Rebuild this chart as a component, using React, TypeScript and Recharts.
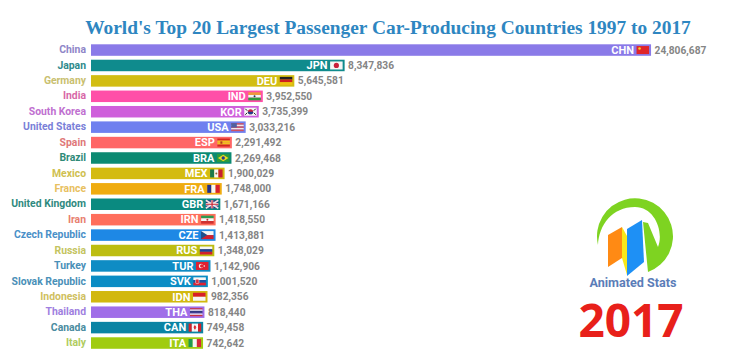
import React from "react";
import { BarChart, Bar, XAxis, YAxis, CartesianGrid, Cell } from "recharts";

const countries = ["China","Japan","Germany","India","South Korea","United States","Spain","Brazil","Mexico","France","United Kingdom","Iran","Czech Republic","Russia","Turkey","Slovak Republic","Indonesia","Thailand","Canada","Italy"];
const codes = ["CHN","JPN","DEU","IND","KOR","USA","ESP","BRA","MEX","FRA","GBR","IRN","CZE","RUS","TUR","SVK","IDN","THA","CAN","ITA"];
const values = [24806687,8347836,5645581,3952550,3735399,3033216,2291492,2269468,1900029,1748000,1671166,1418550,1413881,1348029,1142906,1001520,982356,818440,749458,742642];
const barColors = ["#8a7ae8","#0f8b8d","#d2bd12","#ff4fa8","#cf5fdb","#6f80ef","#ff6666","#0c8a72","#d4bb10","#efac10","#0a8a80","#ff6e5c","#1e88e5","#bdbd10","#0f8cc4","#0a8cc4","#d2b80f","#a06ee8","#0a84a4","#a0cc10"];
const labelColors = ["#8f86c8","#2f8a8c","#c9c070","#d868a8","#c070d0","#7a80d8","#e07878","#2f8a78","#cfc050","#e8c060","#2f8a80","#e88070","#4a90c8","#c4c460","#4a90b8","#4a90b8","#cfc060","#a080e0","#4a8ca0","#b0cc60"];
const gridTicks = [5000000,10000000,15000000,20000000,25000000];
const AXIS_FLOOR = -5275000;
const AXIS_CEIL = 28000000;
const FONT = "Roboto, sans-serif";

const data = countries.map((name, i) => ({ name, code: codes[i], value: values[i] }));

type FP = { x: number; y: number; w: number; h: number };
const HBands = ({ x, y, w, h, c }: FP & { c: string[] }) => (
  <g>{c.map((f, i) => <rect key={i} x={x} y={y + (i * h) / c.length} width={w} height={h / c.length} fill={f} />)}</g>
);
const VBands = ({ x, y, w, h, c }: FP & { c: string[] }) => (
  <g>{c.map((f, i) => <rect key={i} x={x + (i * w) / c.length} y={y} width={w / c.length} height={h} fill={f} />)}</g>
);

function Flag({ code, ...p }: FP & { code: string }) {
  const { x, y, w, h } = p;
  const cx = x + w / 2, cy = y + h / 2;
  switch (code) {
    case "CHN": return <g><rect x={x} y={y} width={w} height={h} fill="#e0252a" /><circle cx={x + 3} cy={y + 2.5} r={1.3} fill="#f5d020" /></g>;
    case "JPN": return <g><rect x={x} y={y} width={w} height={h} fill="#f6f6f6" /><circle cx={cx} cy={cy} r={2.6} fill="#c8203c" /></g>;
    case "DEU": return <HBands {...p} c={["#222","#d02020","#f0c010"]} />;
    case "IND": return <g><HBands {...p} c={["#f09a3a","#f6f6f6","#2f9a3a"]} /><circle cx={cx} cy={cy} r={1} fill="#335" /></g>;
    case "KOR": return <g><rect x={x} y={y} width={w} height={h} fill="#f6f6f6" /><circle cx={cx} cy={cy} r={2.6} fill="#c8203c" /><path d={`M${cx - 2.6} ${cy}a2.6 2.6 0 0 0 5.2 0z`} fill="#20408c" /><path d={`M${x + 1} ${y + 1}l2 2M${x + w - 1} ${y + 1}l-2 2M${x + 1} ${y + h - 1}l2 -2M${x + w - 1} ${y + h - 1}l-2 -2`} stroke="#222" /></g>;
    case "USA": return <g><HBands {...p} c={["#d05060","#f0e8e8","#d05060","#f0e8e8","#d05060"]} /><rect x={x} y={y} width={w * 0.45} height={h * 0.55} fill="#5060a0" /></g>;
    case "ESP": return <g><HBands {...p} c={["#d02820","#f0c020","#f0c020","#d02820"]} /><rect x={x + 3} y={cy - 1.2} width={2} height={2.4} fill="#b04020" /></g>;
    case "BRA": return <g><rect x={x} y={y} width={w} height={h} fill="#2a9a40" /><path d={`M${x + 1} ${cy}L${cx} ${y + 0.7}L${x + w - 1} ${cy}L${cx} ${y + h - 0.7}Z`} fill="#f0d820" /><circle cx={cx} cy={cy} r={1.7} fill="#25408c" /></g>;
    case "MEX": return <g><VBands {...p} c={["#1a7a4a","#f6f6f6","#c82030"]} /><circle cx={cx} cy={cy} r={1} fill="#8a6a30" /></g>;
    case "FRA": return <VBands {...p} c={["#20308c","#f6f6f6","#d82030"]} />;
    case "GBR": return <g><rect x={x} y={y} width={w} height={h} fill="#2c3c80" /><path d={`M${x} ${y}L${x + w} ${y + h}M${x + w} ${y}L${x} ${y + h}`} stroke="#f0e0e0" strokeWidth={1.6} /><path d={`M${cx} ${y}V${y + h}M${x} ${cy}H${x + w}`} stroke="#f4f4f4" strokeWidth={2.4} /><path d={`M${cx} ${y}V${y + h}M${x} ${cy}H${x + w}`} stroke="#c82030" strokeWidth={1.2} /></g>;
    case "IRN": return <g><HBands {...p} c={["#2a9a50","#f6f6f6","#d03030"]} /><circle cx={cx} cy={cy} r={1} fill="#c03030" /></g>;
    case "CZE": return <g><HBands {...p} c={["#f6f6f6","#d02030"]} /><path d={`M${x} ${y}L${cx} ${cy}L${x} ${y + h}Z`} fill="#20508c" /></g>;
    case "RUS": return <HBands {...p} c={["#f6f6f6","#2040a0","#d02030"]} />;
    case "TUR": return <g><rect x={x} y={y} width={w} height={h} fill="#e02030" /><circle cx={x + 5} cy={cy} r={2.2} fill="#f6f6f6" /><circle cx={x + 5.8} cy={cy} r={1.8} fill="#e02030" /><circle cx={x + 8.3} cy={cy} r={0.8} fill="#f6f6f6" /></g>;
    case "SVK": return <g><HBands {...p} c={["#f6f6f6","#2050a0","#e02030"]} /><rect x={x + 2.2} y={y + 1.8} width={3.4} height={4.4} rx={1} fill="#d83040" stroke="#f6f6f6" strokeWidth={0.5} /></g>;
    case "IDN": return <HBands {...p} c={["#d81e28","#f6f6f6"]} />;
    case "THA": return <HBands {...p} c={["#c83040","#f0f0f0","#303880","#303880","#f0f0f0","#c83040"]} />;
    case "CAN": return <g><VBands x={x} y={y} w={w} h={h} c={["#d82028","#f6f6f6","#f6f6f6","#d82028"]} /><path d={`M${cx} ${cy - 2.6}l1.6 2.6l-0.8 0v1.6h-1.6v-1.6l-0.8 0z`} fill="#d82028" /></g>;
    case "ITA": return <VBands {...p} c={["#1f9a50","#f6f6f6","#d82838"]} />;
    default: return null;
  }
}

function BarMark(props: any) {
  const { x, y, width, height, fill, payload } = props;
  const right = x + width;
  const mid = y + height / 2;
  const fw = 12.5, fh = 8;
  return (
    <g>
      <rect x={x} y={y} width={width} height={height} fill={fill} />
      <Flag code={payload.code} x={right - fw - 2} y={mid - fh / 2} w={fw} h={fh} />
      <text x={right - fw - 4.5} y={mid + 3.8} textAnchor="end" fill="#ffffff" fontFamily={FONT} fontWeight={700} fontSize={11}>{payload.code}</text>
      <text x={right + 3.5} y={mid + 3.6} fill="#858585" fontFamily={FONT} fontWeight={700} fontSize={10.2}>{payload.value.toLocaleString("en-US")}</text>
    </g>
  );
}

function CountryTick(props: any) {
  const { y, payload, index } = props;
  return (
    <text x={86} y={y + 3.2} textAnchor="end" fill={labelColors[index]} fontFamily={FONT} fontWeight={700} fontSize={10.4}>{payload.value}</text>
  );
}

function Logo() {
  return (
    <svg width={744} height={355} style={{ position: "absolute", left: 0, top: 0, pointerEvents: "none" }}>
      <path d="M598 245A38 38 0 1 1 648 272L643 222L648 223L658 247C664 232 655 207 635 207C612 207 599 225 598 245Z" fill="#7ed321" />
      <path d="M608 235L622 227L622 258L608 267Z" fill="#ff8a14" />
      <path d="M622 227L627 236L627 275L622 258Z" fill="#f8e71c" />
      <path d="M627 229L642 220L644 262L627 276Z" fill="#1e90f5" />
    </svg>
  );
}

export default function App() {
  return (
    <div style={{ position: "absolute", left: 0, top: 0, width: 744, height: 355, background: "#fff", overflow: "hidden" }}>
      <BarChart width={744} height={355} data={data} layout="vertical" barSize={11.5} margin={{ top: 42.3, right: 33.5, bottom: 4.3, left: 0 }}>
        <CartesianGrid vertical horizontal={false} stroke="#f4f4f4" syncWithTicks />
        <XAxis type="number" domain={[AXIS_FLOOR, AXIS_CEIL]} ticks={gridTicks} tick={false} axisLine={false} tickLine={false} height={0} />
        <YAxis type="category" dataKey="name" width={91} interval={0} tick={<CountryTick />} axisLine={false} tickLine={false} />
        <Bar dataKey={(d: any) => [AXIS_FLOOR, d.value]} isAnimationActive={false} shape={<BarMark />}>
          {data.map((d, i) => <Cell key={d.code} fill={barColors[i]} />)}
        </Bar>
      </BarChart>
      <div style={{ position: "absolute", left: 0, width: 776, top: 14, textAlign: "center", fontFamily: "'Liberation Serif', serif", fontWeight: 700, fontSize: 19.4, lineHeight: "28px", color: "#2e86c1", whiteSpace: "nowrap" }}>
        World's Top 20 Largest Passenger Car-Producing Countries 1997 to 2017
      </div>
      <Logo />
      <div style={{ position: "absolute", left: 573, width: 120, top: 276, textAlign: "center", fontFamily: FONT, fontWeight: 700, fontSize: 12.6, lineHeight: "14px", color: "#5b7db8" }}>Animated Stats</div>
      <div style={{ position: "absolute", left: 561, width: 140, top: 301, textAlign: "center", fontFamily: "'Open Sans', sans-serif", fontWeight: 700, fontSize: 46, lineHeight: "36px", color: "#e8201a" }}>2017</div>
    </div>
  );
}
